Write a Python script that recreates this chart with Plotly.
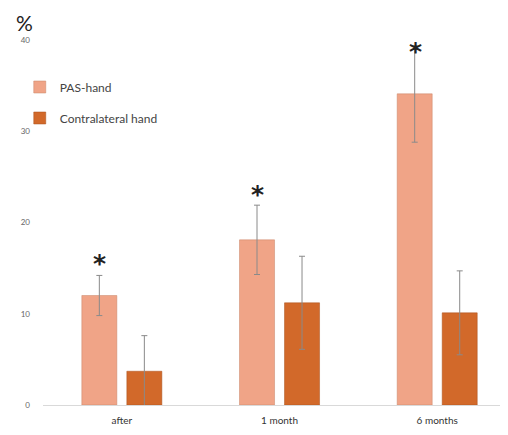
import plotly.graph_objects as go

categories = ["after", "1 month", "6 months"]
pas_values = [12.0, 18.1, 34.1]
pas_err = [2.2, 3.8, 5.3]
contra_values = [3.7, 11.2, 10.1]
contra_err = [3.9, 5.1, 4.6]
star_y = [16.1, 23.6, 41.1]
y_ticks = [0, 10, 20, 30, 40]
y_max = 40

fig = go.Figure()
fig.add_trace(go.Bar(
    x=categories, y=pas_values, name="PAS-hand", legendgroup="a",
    marker=dict(color="#F0A487", line=dict(color="#C98466", width=0.5)),
    error_y=dict(type="data", array=pas_err, color="#8a8a8a", thickness=1, width=3),
))
fig.add_trace(go.Bar(
    x=categories, y=contra_values, name="Contralateral hand", legendgroup="b",
    marker=dict(color="#D2692A", line=dict(color="#A8501C", width=0.5)),
    error_y=dict(type="data", array=contra_err, color="#8a8a8a", thickness=1, width=3),
))

for c, s in zip(categories, star_y):
    fig.add_annotation(x=c, y=s / y_max, xref="x", yref="paper", text="<b>*</b>", showarrow=False,
                       xshift=-22, yshift=-5, font=dict(size=25, color="#222", family="DejaVu Sans"))

fig.add_annotation(xref="paper", yref="paper", x=-0.06, y=1.085, yanchor="top", text="%",
                   showarrow=False, borderpad=0, font=dict(size=21, color="#222", family="Lato"))

fig.update_layout(
    width=500, height=427,
    margin=dict(l=35, r=0, t=32, b=30),
    paper_bgcolor="white", plot_bgcolor="white",
    barmode="group", bargap=0.429, bargroupgap=0.222,
    font=dict(family="Lato", color="#444"),
    showlegend=True,
    legend=dict(x=-0.05, y=0.911, xanchor="left", yanchor="top", traceorder="grouped",
                tracegroupgap=12, font=dict(size=12, color="#444"), bgcolor="rgba(0,0,0,0)"),
    xaxis=dict(range=[-0.5, 2.449], showline=True, linecolor="#d9d9d9", linewidth=1,
               tickfont=dict(size=10, color="#333"), ticks="", ticklabelstandoff=6),
    yaxis=dict(range=[0, y_max], tickvals=y_ticks, showgrid=False, zeroline=False, showline=False,
               tickfont=dict(size=8, color="#666"), ticklabelstandoff=12),
)

fig.write_html("out.html")
